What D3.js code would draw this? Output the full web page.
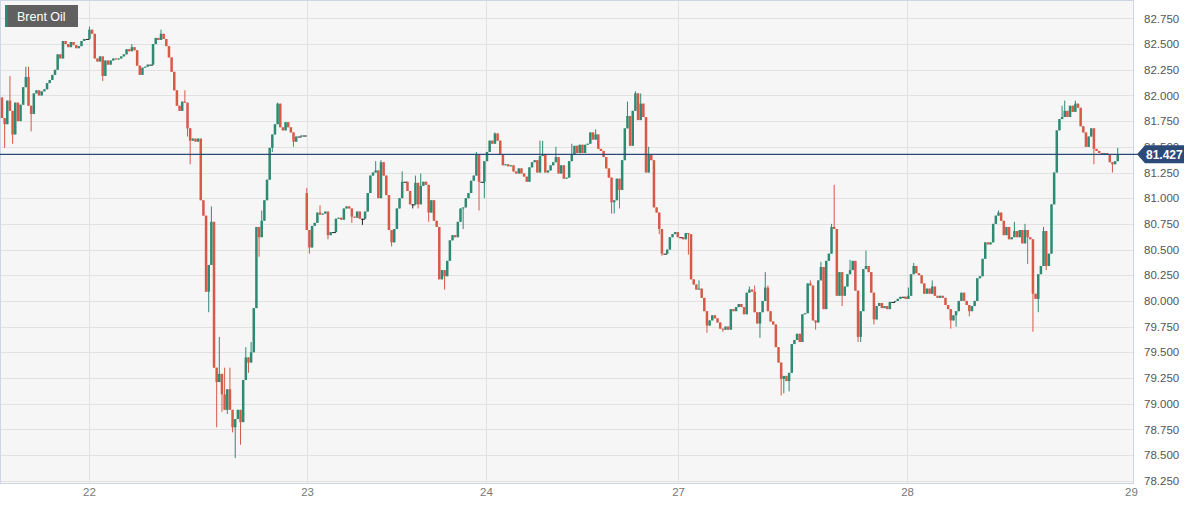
<!DOCTYPE html>
<html><head><meta charset="utf-8">
<script src="https://cdn.jsdelivr.net/npm/d3@7"></script>
<style>
html,body{margin:0;padding:0;background:#fff;}
svg{display:block;font-family:"Liberation Sans",Arial,sans-serif;}
</style></head>
<body>
<svg id="chart" width="1201" height="509"></svg>
<script>
// ---- data (15-minute candles, Brent Oil) ----
const closes = [
81.78,81.72,81.95,81.85,81.62,81.93,81.75,81.91,82.08,82.18,
81.90,81.82,82.02,82.05,82.00,82.04,82.06,82.12,82.15,82.20,
82.25,82.40,82.36,82.53,82.50,82.47,82.52,82.49,82.46,82.48,
82.53,82.55,82.55,82.64,82.60,82.36,82.33,82.38,82.19,82.34,
82.30,82.34,82.36,82.35,82.36,82.38,82.40,82.45,82.43,82.47,
82.44,82.29,82.20,82.27,82.28,82.30,82.30,82.50,82.56,82.54,
82.60,82.55,82.48,82.37,82.23,82.05,81.90,81.85,81.94,81.93,
81.68,81.56,81.58,81.55,81.58,80.98,80.83,80.09,80.35,80.77,
79.35,79.21,79.29,79.09,78.94,79.14,78.94,78.77,78.85,78.94,
78.82,79.23,79.45,79.40,79.50,79.93,80.72,80.62,80.78,80.98,
81.18,81.49,81.62,81.72,81.92,81.69,81.66,81.74,81.69,81.64,
81.55,81.60,81.60,81.61,81.61,80.69,80.52,80.73,80.76,80.86,
80.84,80.85,80.87,80.64,80.67,80.67,80.80,80.81,80.79,80.90,
80.92,80.90,80.82,80.81,80.87,80.80,80.80,80.87,81.05,81.22,
81.25,81.27,81.00,81.35,81.22,81.03,80.69,80.57,80.70,80.90,
81.00,81.16,81.16,81.07,80.94,80.94,81.15,80.94,81.12,81.16,
81.13,80.86,80.98,80.78,80.72,80.21,80.30,80.24,80.39,80.59,
80.64,80.62,80.77,80.90,80.91,81.00,81.05,81.17,81.22,81.43,
81.16,81.16,81.36,81.45,81.56,81.53,81.63,81.56,81.42,81.32,
81.33,81.31,81.32,81.26,81.24,81.29,81.24,81.21,81.16,81.30,
81.35,81.37,81.25,81.41,81.42,81.25,81.27,81.32,81.35,81.40,
81.24,81.32,81.19,81.20,81.36,81.42,81.51,81.44,81.52,81.44,
81.52,81.53,81.64,81.57,81.62,81.48,81.46,81.40,81.29,81.20,
80.96,80.98,81.19,81.08,81.37,81.68,81.80,81.51,81.85,82.02,
81.76,81.92,81.79,81.25,81.42,81.37,80.91,80.86,80.70,80.46,
80.46,80.50,80.62,80.65,80.67,80.62,80.62,80.60,80.66,80.65,
80.21,80.16,80.11,80.12,80.03,79.90,79.76,79.81,79.86,79.83,
79.79,79.73,79.72,79.75,79.72,79.92,79.90,79.94,79.97,79.94,
79.87,80.08,80.11,80.09,79.89,79.78,79.89,80.00,80.13,79.90,
79.80,79.77,79.55,79.40,79.24,79.27,79.22,79.30,79.58,79.62,
79.68,79.60,79.87,79.88,80.17,80.15,79.81,79.79,80.20,80.33,
79.92,80.39,80.46,80.72,80.70,80.05,80.28,80.05,80.14,80.26,
80.30,80.39,80.10,79.65,79.90,80.31,80.34,80.28,80.08,79.82,
79.95,79.98,79.93,79.95,79.92,79.99,79.99,80.00,80.02,80.04,
80.04,80.02,80.05,80.26,80.34,80.27,80.25,80.17,80.07,80.12,
80.07,80.14,80.05,80.03,80.05,80.03,79.96,79.92,79.81,79.86,
79.90,80.00,80.08,80.00,79.96,79.90,79.95,80.00,80.22,80.24,
80.41,80.57,80.55,80.57,80.75,80.83,80.86,80.78,80.64,80.72,
80.60,80.62,80.68,80.62,80.69,80.56,80.69,80.62,80.60,80.07,
80.02,80.26,80.34,80.68,80.34,80.46,80.94,81.25,81.66,81.77,
81.79,81.85,81.79,81.90,81.84,81.92,81.88,81.70,81.64,81.50,
81.60,81.68,81.48,81.46,81.44,81.43,81.44,81.42,81.35,81.33,
81.36,81.43,81.427
];
// session opens that do not equal the previous close
const sessionOpens = [[0, 81.98], [115, 81.05]];
// notable upper / lower wicks [candle index, price]
const highs = [[3,82.19],[9,82.28],[10,82.28],[33,82.67],[49,82.50],[60,82.64],[69,82.05],
[79,80.92],[82,79.65],[84,79.35],[86,79.35],[92,79.55],[94,79.60],[98,80.88],[104,81.93],
[115,81.10],[120,80.93],[141,81.36],[143,81.37],[151,81.26],[156,81.22],[158,81.24],[179,81.45],
[186,81.64],[203,81.56],[204,81.56],[209,81.50],[215,81.53],[224,81.67],[236,81.94],[239,82.04],
[241,82.02],[244,81.50],[246,81.12],[263,80.20],[282,80.14],[284,80.15],[288,80.28],[289,80.15],
[305,80.20],[309,80.38],[313,80.75],[314,81.13],[320,80.40],[326,80.49],[342,80.13],[344,80.37],
[351,80.20],[376,80.88],[382,80.77],[386,80.75],[393,80.72],[400,81.90],[401,81.95],[405,81.95],[421,81.49]];
const lows = [[1,81.49],[4,81.53],[11,81.65],[38,82.14],[70,81.60],[71,81.33],[78,79.89],[81,78.77],
[83,78.92],[85,78.90],[87,78.72],[88,78.47],[90,78.60],[93,79.30],[97,80.43],[102,81.45],[110,81.50],
[116,80.46],[123,80.60],[132,80.76],[136,80.74],[147,80.53],[155,80.90],[157,80.90],[161,80.77],
[167,80.11],[174,80.70],[180,80.88],[182,81.00],[230,80.85],[231,80.85],[233,80.90],[248,80.65],
[249,80.44],[259,80.45],[266,79.69],[272,79.70],[286,79.64],[294,79.08],[295,79.10],[297,79.12],
[307,79.72],[317,79.95],[323,79.60],[324,79.60],[329,79.77],[358,79.73],[360,79.75],[365,79.85],
[387,80.36],[389,79.70],[391,79.89],[394,80.30],[412,81.33],[419,81.25]];
// x-axis day labels and the candle position where each day starts
const dayLabels = ["22","23","24","27","28","29"];
const dayPositions = [32.8, 115.1, 182.6, 255.1, 341.5, 426];
// y-axis tick labels
const priceTicks = [78.25,78.5,78.75,79,79.25,79.5,79.75,80,80.25,80.5,80.75,81,81.25,81.5,81.75,82,82.25,82.5,82.75];
const lastPrice = 81.427;
const title = "Brent Oil";

// ---- build candles ----
const openMap = new Map(sessionOpens), hiMap = new Map(highs), loMap = new Map(lows);
const candles = closes.map((c, i) => {
  const o = openMap.has(i) ? openMap.get(i) : closes[i - 1];
  const h = Math.max(o, c, hiMap.has(i) ? hiMap.get(i) : -Infinity);
  const l = Math.min(o, c, loMap.has(i) ? loMap.get(i) : Infinity);
  return {i, o, h, l, c};
});

// ---- layout ----
const svg = d3.select("#chart");
const plot = {left: 1, right: 1133, top: 1, bottom: 483};
const x = d3.scaleLinear().domain([0, 426]).range([2, 1131]);
const y = d3.scaleLinear().domain([78.25, 82.75]).range([480.7, 18.4]);
const UP = "#2f8a73", DOWN = "#d65a47", FLAT = "#222";

svg.append("rect").attr("x", plot.left).attr("y", plot.top)
  .attr("width", plot.right - plot.left).attr("height", plot.bottom - plot.top)
  .attr("fill", "#f6f6f6");

// grid
const g = svg.append("g");
g.selectAll("line.h").data(priceTicks).join("line")
  .attr("x1", plot.left).attr("x2", plot.right)
  .attr("y1", d => Math.round(y(d)) + 0.5).attr("y2", d => Math.round(y(d)) + 0.5)
  .attr("stroke", "#e2e2e2").attr("stroke-width", 1);
g.selectAll("line.v").data(dayPositions.slice(0, -1)).join("line")
  .attr("x1", d => Math.round(x(d)) + 0.5).attr("x2", d => Math.round(x(d)) + 0.5)
  .attr("y1", plot.top).attr("y2", plot.bottom)
  .attr("stroke", "#e2e2e2").attr("stroke-width", 1);

// border
svg.append("rect").attr("x", plot.left - 0.5).attr("y", plot.top - 0.5)
  .attr("width", plot.right - plot.left + 1).attr("height", plot.bottom - plot.top + 1)
  .attr("fill", "none").attr("stroke", "#cdd5e6").attr("stroke-width", 1);

// candles
const colorOf = d => d.i === closes.length - 1 ? "#aaa" : (d.c > d.o ? UP : d.c < d.o ? DOWN : FLAT);
const cg = svg.append("g");
cg.selectAll("line").data(candles).join("line")
  .attr("x1", d => x(d.i)).attr("x2", d => x(d.i))
  .attr("y1", d => y(d.h)).attr("y2", d => y(d.l))
  .attr("stroke", colorOf).attr("stroke-width", 1);
const bw = 2.5;
cg.selectAll("rect").data(candles).join("rect")
  .attr("x", d => x(d.i) - bw / 2)
  .attr("width", d => d.c === d.o ? bw + 1.4 : bw)
  .attr("y", d => Math.min(y(d.o), y(d.c)))
  .attr("height", d => Math.max(1, Math.abs(y(d.o) - y(d.c))))
  .attr("fill", colorOf);

// last price line
svg.append("line").attr("x1", 0).attr("x2", 1140)
  .attr("y1", y(lastPrice)).attr("y2", y(lastPrice))
  .attr("stroke", "#2b4a78").attr("stroke-width", 1.2);

// y axis (right)
const yAxis = d3.axisRight(y).tickValues(priceTicks).tickFormat(d3.format(".3f")).tickSize(0).tickPadding(0);
const ya = svg.append("g").attr("transform", "translate(1144,0)").call(yAxis);
ya.select(".domain").remove();
ya.selectAll("text").attr("fill", "#555").attr("font-size", 11.5)
  .attr("font-family", "Liberation Sans, Arial, sans-serif");

// x axis
const xAxis = d3.axisBottom(x).tickValues(dayPositions).tickFormat((d, i) => dayLabels[i]).tickSize(0).tickPadding(0);
const xa = svg.append("g").attr("transform", "translate(0,488)").call(xAxis);
xa.select(".domain").remove();
xa.selectAll("text").attr("fill", "#777").attr("font-size", 11.5)
  .attr("font-family", "Liberation Sans, Arial, sans-serif");

// price tag (covers most of the 81.500 label, as in the original)
const ty = y(lastPrice);
svg.append("path")
  .attr("d", `M1137,${ty} L1145,${ty - 9} L1184,${ty - 9} L1184,${ty + 9} L1145,${ty + 9} Z`)
  .attr("fill", "#2b4a78");
svg.append("text").attr("x", 1146).attr("y", ty + 4.5)
  .attr("fill", "#fff").attr("font-size", 12).attr("font-weight", "bold")
  .text(d3.format(".3f")(lastPrice));

// title badge
svg.append("rect").attr("x", 5).attr("y", 5).attr("width", 73).attr("height", 22).attr("fill", "#606060");
svg.append("rect").attr("x", 5).attr("y", 5).attr("width", 2.5).attr("height", 22).attr("fill", UP);
svg.append("text").attr("x", 17).attr("y", 21).attr("fill", "#fff").attr("font-size", 12.5).text(title);
</script>
</body></html>
